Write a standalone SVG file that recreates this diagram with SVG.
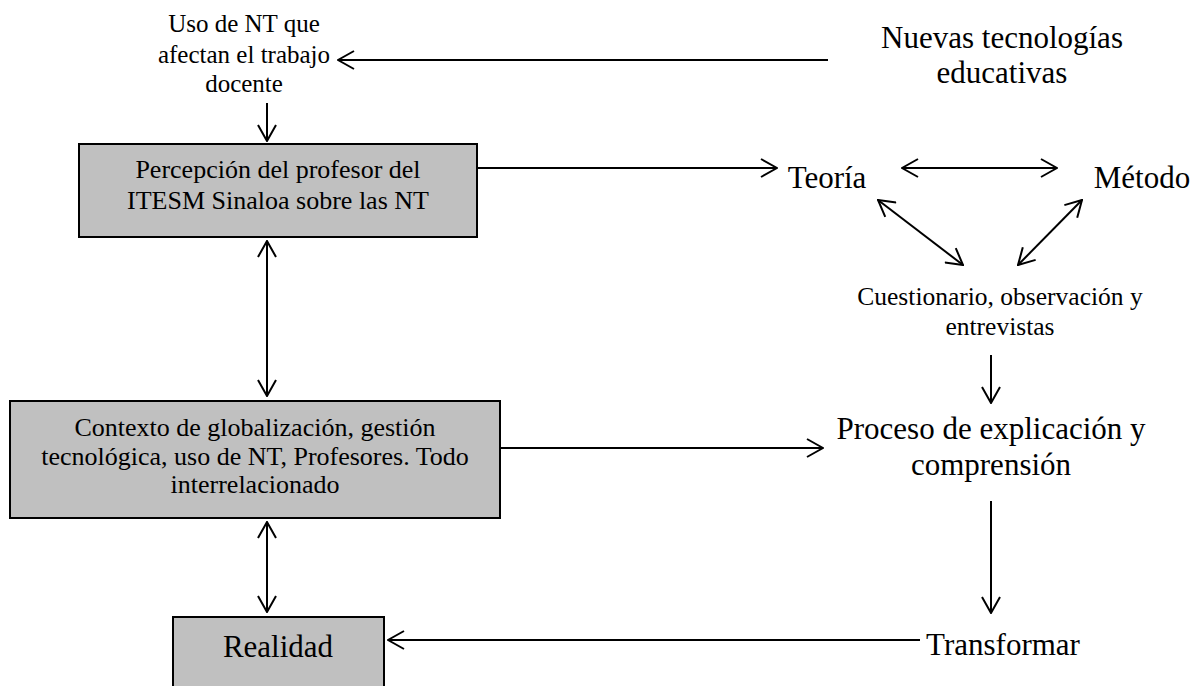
<svg xmlns="http://www.w3.org/2000/svg" width="1199" height="686" viewBox="0 0 1199 686">
  <style>
    .box { fill: #c0c0c0; stroke: #000; stroke-width: 2; }
    .t { fill: #000; text-anchor: middle; }
    .s { font-size: 26px; }
    .l { font-size: 31px; }
    .c { fill: none; stroke: #000; stroke-width: 2; }
  </style>
  <defs>
    <!-- open V arrowhead used at both ends of the connectors -->
    <marker id="open" viewBox="0 0 18 20" refX="17" refY="10" markerWidth="18" markerHeight="20" markerUnits="userSpaceOnUse" orient="auto-start-reverse">
      <path d="M1,1 L17,10 L1,19" fill="none" stroke="#000" stroke-width="2"/>
    </marker>
  </defs>

  <g id="connectors" class="c">
    <line x1="828" y1="60" x2="338" y2="60" marker-end="url(#open)"/>
    <line x1="267" y1="103" x2="267" y2="141" marker-end="url(#open)"/>
    <line x1="477" y1="168" x2="777" y2="168" marker-end="url(#open)"/>
    <line x1="902" y1="168" x2="1057" y2="168" marker-start="url(#open)" marker-end="url(#open)"/>
    <line x1="878" y1="200" x2="963" y2="265" marker-start="url(#open)" marker-end="url(#open)"/>
    <line x1="1082" y1="200" x2="1018" y2="265" marker-start="url(#open)" marker-end="url(#open)"/>
    <line x1="991" y1="355" x2="991" y2="403" marker-end="url(#open)"/>
    <line x1="267" y1="241" x2="267" y2="396" marker-start="url(#open)" marker-end="url(#open)"/>
    <line x1="500" y1="448" x2="823" y2="448" marker-end="url(#open)"/>
    <line x1="991" y1="501" x2="991" y2="613" marker-end="url(#open)"/>
    <line x1="267" y1="522" x2="267" y2="612" marker-start="url(#open)" marker-end="url(#open)"/>
    <line x1="920" y1="640" x2="388" y2="640" marker-end="url(#open)"/>
  </g>

  <g id="labels" font-family="'Liberation Serif', 'Times New Roman', 'DejaVu Serif', serif">
    <g id="uso-nt">
      <text class="t" font-size="25" x="244" y="32">Uso de NT que</text>
      <text class="t" font-size="25" x="244" y="63">afectan el trabajo</text>
      <text class="t" font-size="25" x="244" y="92">docente</text>
    </g>

    <g id="nuevas-tecnologias">
      <text class="t l" x="1002" y="48">Nuevas tecnologías</text>
      <text class="t l" x="1002" y="83">educativas</text>
    </g>

    <g id="percepcion">
      <rect class="box" x="79" y="144" width="398" height="93"/>
      <text class="t s" x="278" y="178">Percepción del profesor del</text>
      <text class="t s" x="278" y="209">ITESM Sinaloa sobre las NT</text>
    </g>

    <g id="teoria">
      <text class="t l" x="827" y="188">Teoría</text>
    </g>

    <g id="metodo">
      <text class="t l" x="1142" y="188">Método</text>
    </g>

    <g id="cuestionario">
      <text class="t" font-size="25.5" x="1000" y="305">Cuestionario, observación y</text>
      <text class="t" font-size="25.5" x="1000" y="335">entrevistas</text>
    </g>

    <g id="contexto">
      <rect class="box" x="10" y="401" width="490" height="117"/>
      <text class="t s" x="255" y="436">Contexto de globalización, gestión</text>
      <text class="t s" x="255" y="465">tecnológica, uso de NT, Profesores. Todo</text>
      <text class="t s" x="255" y="493">interrelacionado</text>
    </g>

    <g id="proceso">
      <text class="t l" x="991" y="439">Proceso de explicación y</text>
      <text class="t l" x="991" y="475">comprensión</text>
    </g>

    <g id="realidad">
      <rect class="box" x="173" y="617" width="211" height="80"/>
      <text class="t l" x="278" y="657">Realidad</text>
    </g>

    <g id="transformar">
      <text class="t l" x="1003" y="655">Transformar</text>
    </g>
  </g>
</svg>
